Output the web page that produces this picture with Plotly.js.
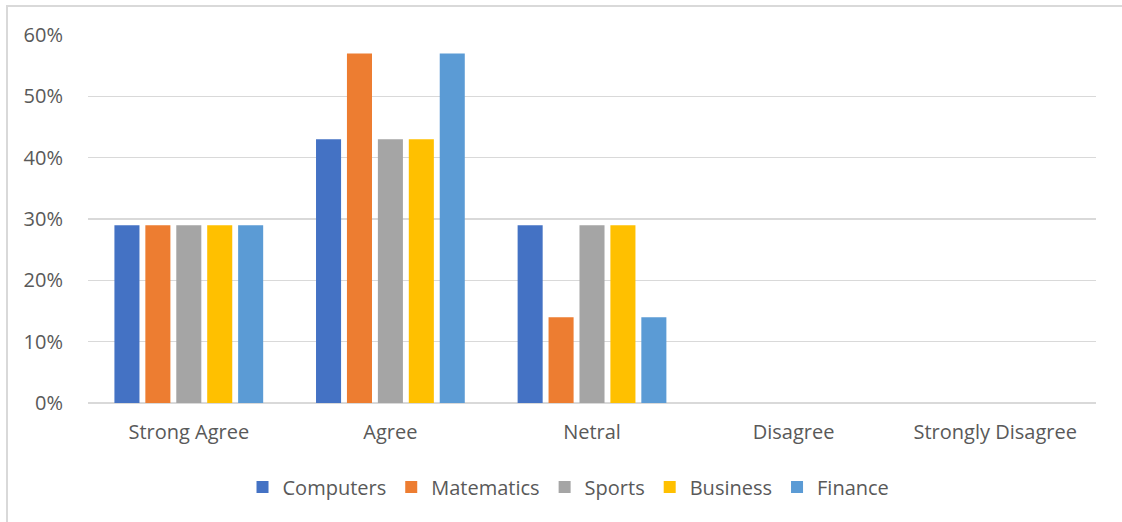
<!DOCTYPE html>
<html>
<head>
<meta charset="utf-8">
<script src="https://cdn.plot.ly/plotly-3.0.1.min.js"></script>
<style>
html,body{margin:0;padding:0;background:#fff;}
#frame{position:absolute;left:6px;top:5px;width:1130px;height:530px;border-top:2px solid #d9d9d9;border-left:2px solid #d9d9d9;box-sizing:border-box;pointer-events:none;z-index:5;}
#chart{width:1122px;height:522px;}
</style>
</head>
<body>
<div id="frame"></div>
<div id="chart"></div>
<script>
const categories = ["Strong Agree", "Agree", "Netral", "Disagree", "Strongly Disagree"];
const seriesNames = ["Computers", "Matematics", "Sports", "Business", "Finance"];
const computers  = [0.29, 0.43, 0.29, 0, 0];
const matematics = [0.29, 0.57, 0.14, 0, 0];
const sports     = [0.29, 0.43, 0.29, 0, 0];
const business   = [0.29, 0.43, 0.29, 0, 0];
const finance    = [0.29, 0.57, 0.14, 0, 0];
const colors = ["#4472C4", "#ED7D31", "#A5A5A5", "#FFC000", "#5B9BD5"];
const values = [computers, matematics, sports, business, finance];

const font = "'Open Sans', 'Noto Sans', sans-serif";
const traces = values.map((v, i) => ({
  type: 'bar',
  name: seriesNames[i],
  x: categories,
  y: v,
  marker: {color: colors[i]},
  hoverinfo: 'skip'
}));

const layout = {
  width: 1122, height: 522,
  margin: {l: 88, r: 26, t: 35, b: 119},
  paper_bgcolor: '#fff', plot_bgcolor: '#fff',
  barmode: 'group',
  bargap: 0.233,
  bargroupgap: 0.19,
  font: {family: font, size: 20, color: '#595959'},
  showlegend: true,
  legend: {orientation: 'h', x: 0.4767, xanchor: 'center', y: -0.228, yanchor: 'middle',
           font: {family: font, size: 20, color: '#595959'}, itemwidth: 30, traceorder: 'normal'},
  xaxis: {
    type: 'category', showgrid: false, zeroline: false, showline: false,
    ticks: 'outside', ticklen: 11, tickcolor: 'rgba(0,0,0,0)',
    tickfont: {family: font, size: 20, color: '#595959'}, fixedrange: true
  },
  yaxis: {
    range: [0, 0.6], dtick: 0.1, tickformat: '.0%',
    showgrid: true, gridcolor: '#d9d9d9', gridwidth: 1.5,
    zeroline: true, zerolinecolor: '#d9d9d9', zerolinewidth: 1.5,
    showline: false,
    ticks: 'outside', ticklen: 20, tickcolor: 'rgba(0,0,0,0)',
    tickfont: {family: font, size: 20, color: '#595959'}, fixedrange: true
  }
};
Plotly.newPlot('chart', traces, layout, {displayModeBar: false, staticPlot: true});
</script>
</body>
</html>
